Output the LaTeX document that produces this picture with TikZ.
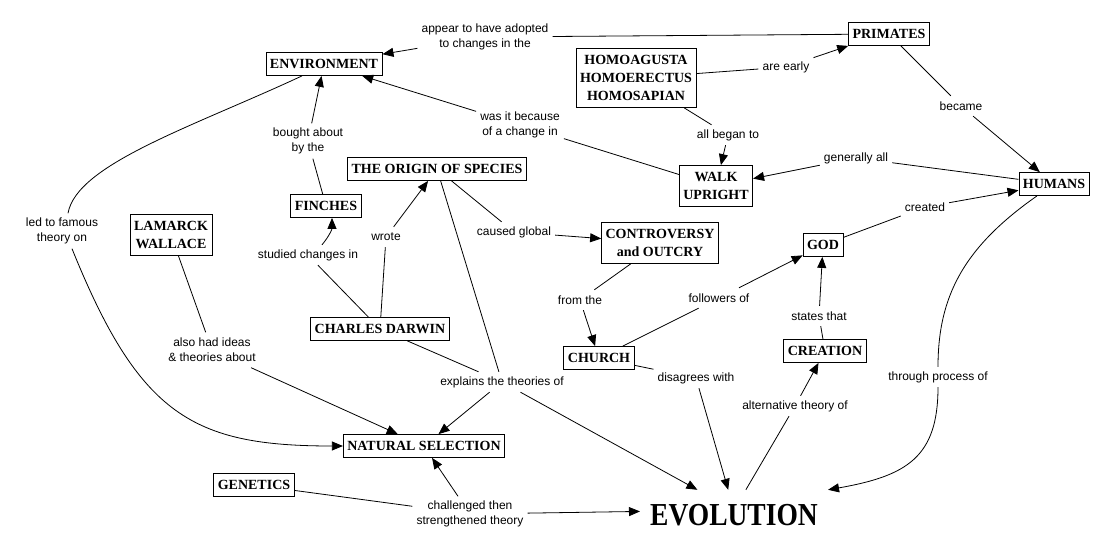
\documentclass[tikz,border=0pt]{standalone}
\usepackage{fontspec}
\setmainfont{Liberation Serif}
\newfontfamily\lblfont{Liberation Sans}
\usetikzlibrary{arrows.meta}
\begin{document}
\begin{tikzpicture}[x=1pt,y=1pt,
  concept/.style={draw, line width=0.8pt, font=\bfseries\fontsize{14}{18}\selectfont, align=center,
    inner xsep=4pt, inner ysep=0pt, minimum height=23pt},
  twoline/.style={minimum height=41pt},
  threeline/.style={minimum height=59pt},
  lbl/.style={font=\lblfont\fontsize{12}{15}\selectfont, align=center, inner xsep=4pt, inner ysep=0pt,
    minimum height=20pt},
  lbltwo/.style={minimum height=35pt},
  evostyle/.style={font=\bfseries\fontsize{32}{36}\selectfont, anchor=base, inner xsep=10pt,
    inner ysep=0pt, text height=35pt, text depth=5pt},
  ln/.style={line width=0.8pt},
  arr/.style={line width=0.8pt, -{Triangle[length=11pt,width=9pt]}}]
\useasboundingbox[fill=white] (0,0) rectangle (1108,-556);

% concepts
\node[concept] (env) at (324,-64) {ENVIRONMENT};
\node[concept] (prim) at (889,-34) {PRIMATES};
\node[concept, threeline] (homo) at (636,-78) {HOMOAGUSTA\\HOMOERECTUS\\HOMOSAPIAN};
\node[concept, twoline] (walk) at (716,-186) {WALK\\UPRIGHT};
\node[concept] (hum) at (1054,-184) {HUMANS};
\node[concept, twoline] (lam) at (171,-235) {LAMARCK\\WALLACE};
\node[concept] (fin) at (326,-206) {FINCHES};
\node[concept] (orig) at (437,-169) {THE ORIGIN OF SPECIES};
\node[concept] (dar) at (380,-329) {CHARLES DARWIN};
\node[concept, twoline] (cont) at (660,-243) {CONTROVERSY\\and OUTCRY};
\node[concept] (god) at (823,-245) {GOD};
\node[concept] (church) at (599,-358) {CHURCH};
\node[concept] (crea) at (825,-351) {CREATION};
\node[concept] (nat) at (424,-446) {NATURAL SELECTION};
\node[concept] (gen) at (254,-485) {GENETICS};
\node[evostyle] (evo) at (734,-525) {\scalebox{0.86}[1]{EVOLUTION}};

% labels
\node[lbl, lbltwo] (l1) at (485,-37) {appear to have adopted\\to changes in the};
\node[lbl, lbltwo] (l2) at (520,-125) {was it because\\of a change in};
\node[lbl, lbltwo] (l3) at (308,-141) {bought about\\by the};
\node[lbl] (l4) at (786,-67) {are early};
\node[lbl] (l5) at (728,-135) {all began to};
\node[lbl] (l6) at (961,-106) {became};
\node[lbl] (l7) at (856,-158) {generally all};
\node[lbl] (l8) at (925,-207) {created};
\node[lbl, lbltwo] (l9) at (62,-231) {led to famous\\theory on};
\node[lbl] (l10) at (308,-255) {studied changes in};
\node[lbl] (l11) at (386,-237) {wrote};
\node[lbl] (l12) at (514,-232) {caused global};
\node[lbl] (l13) at (580,-300) {from the};
\node[lbl] (l14) at (719,-298) {followers of};
\node[lbl] (l15) at (819,-316) {states that};
\node[lbl] (l16) at (696,-378) {disagrees with};
\node[lbl, lbltwo] (l17) at (212,-350) {also had ideas\\\& theories about};
\node[lbl] (l18) at (502,-382) {explains the theories of};
\node[lbl, lbltwo] (l19) at (470,-514) {challenged then\\strengthened theory};
\node[lbl] (l20) at (795,-406) {alternative theory of};
\node[lbl] (l21) at (938,-377) {through process of};

% connectors
\draw[ln] (prim) -- (l1);
\draw[arr] (l1) -- (env);
\draw[ln] (walk) -- (l2);
\draw[arr] (l2) -- (env);
\draw[ln] (fin) -- (l3);
\draw[arr] (l3) -- (env);
\draw[ln] (homo) -- (l4);
\draw[arr] (l4) -- (prim.south west);
\draw[ln] (homo) -- (l5);
\draw[arr] (l5) -- (walk);
\draw[ln] (prim) -- (l6);
\draw[arr] (l6) -- (hum);
\draw[ln] (hum) -- (l7);
\draw[arr] (l7) -- (walk);
\draw[ln] (god) -- (l8);
\draw[arr] (l8) -- (hum);
\draw[ln] ([xshift=-22pt]env.south) to[out=205,in=80,out distance=120pt,in distance=50pt] ([xshift=6pt]l9.north);
\draw[arr] ([xshift=10pt]l9.south) to[out=-68,in=180,out distance=180pt,in distance=150pt] (nat.west);
\draw[ln] (dar) -- (l10);
\draw[arr] ([xshift=14pt]l10.north) to[out=50,in=-90] ([xshift=6pt]fin.south);
\draw[ln] (dar) -- (l11);
\draw[arr] (l11) -- (orig);
\draw[ln] (orig) -- (l12);
\draw[arr] (l12) -- (cont);
\draw[ln] (cont) -- (l13);
\draw[arr] (l13) -- (church);
\draw[ln] (church) -- (l14);
\draw[arr] (l14) -- (god);
\draw[ln] (crea) -- (l15);
\draw[arr] (l15) -- (god);
\draw[ln] (church) -- (l16);
\draw[arr] (l16) -- (evo);
\draw[ln] (lam) -- (l17);
\draw[arr] (l17) -- (nat);
\draw[ln] (dar) -- (l18);
\draw[ln] (orig) -- (l18);
\draw[arr] (l18) -- (nat);
\draw[arr] (l18) -- (evo);
\draw[ln] (gen) -- (l19);
\draw[arr] (l19) -- (nat);
\draw[arr] (l19) -- (evo);
\draw[ln] (evo) -- (l20);
\draw[arr] (l20) -- (crea);
\draw[ln] ([xshift=-17pt]hum.south) to[out=215,in=90,out distance=90pt,in distance=70pt] (l21.north);
\draw[arr] (l21.south) to[out=-90,in=10,out distance=70pt,in distance=80pt] (evo.north east);
\end{tikzpicture}
\end{document}
